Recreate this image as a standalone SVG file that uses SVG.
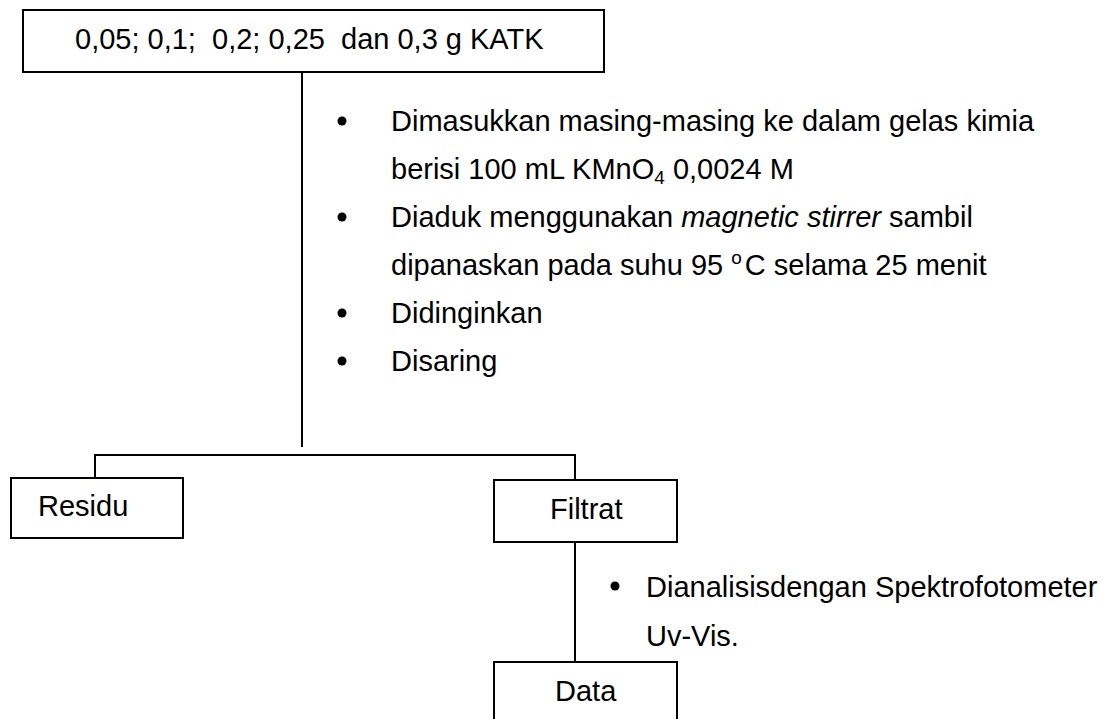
<svg xmlns="http://www.w3.org/2000/svg" width="1109" height="719" viewBox="0 0 1109 719">
<style>
  .box { fill: #ffffff; stroke: #000000; stroke-width: 2; }
  .ln { fill: none; stroke: #000000; stroke-width: 2; }
  text { font-family: "Liberation Sans", Arial, sans-serif; font-size: 29px; fill: #000000; }
</style>
<rect width="1109" height="719" fill="#ffffff"/>
<g id="connectors">
  <line class="ln" x1="302" y1="72" x2="302" y2="447"/>
  <polyline class="ln" points="95,478 95,455 575,455 575,480"/>
  <line class="ln" x1="575" y1="542" x2="575" y2="662"/>
</g>
<g id="node-katk">
  <rect class="box" x="23" y="10" width="581" height="62"/>
  <text x="75" y="49" xml:space="preserve">0,05; 0,1;  0,2; 0,25  dan 0,3 g KATK</text>
</g>
<g id="steps-1">
  <circle cx="342" cy="121" r="4.5"/>
  <text x="391" y="131">Dimasukkan masing-masing ke dalam gelas kimia</text>
  <text x="391" y="179">berisi 100 mL KMnO<tspan font-size="19" dy="5">4</tspan><tspan dy="-5"> 0,0024 M</tspan></text>
  <circle cx="342" cy="217" r="4.5"/>
  <text x="391" y="227">Diaduk menggunakan <tspan font-style="italic">magnetic stirrer</tspan> sambil</text>
  <text x="391" y="275">dipanaskan pada suhu 95 <tspan font-size="19" dy="-11">o</tspan><tspan dx="3" dy="11">C selama 25 menit</tspan></text>
  <circle cx="342" cy="313" r="4.5"/>
  <text x="391" y="323">Didinginkan</text>
  <circle cx="342" cy="361" r="4.5"/>
  <text x="391" y="371">Disaring</text>
</g>
<g id="node-residu">
  <rect class="box" x="11" y="478" width="172" height="60"/>
  <text x="38" y="516">Residu</text>
</g>
<g id="node-filtrat">
  <rect class="box" x="494" y="480" width="183" height="62"/>
  <text x="550" y="519">Filtrat</text>
</g>
<g id="steps-2">
  <circle cx="615" cy="586" r="4.5"/>
  <text x="646" y="597">Dianalisisdengan Spektrofotometer</text>
  <text x="646" y="646">Uv-Vis.</text>
</g>
<g id="node-data">
  <rect class="box" x="494" y="662" width="183" height="62"/>
  <text x="555" y="701">Data</text>
</g>
</svg>
